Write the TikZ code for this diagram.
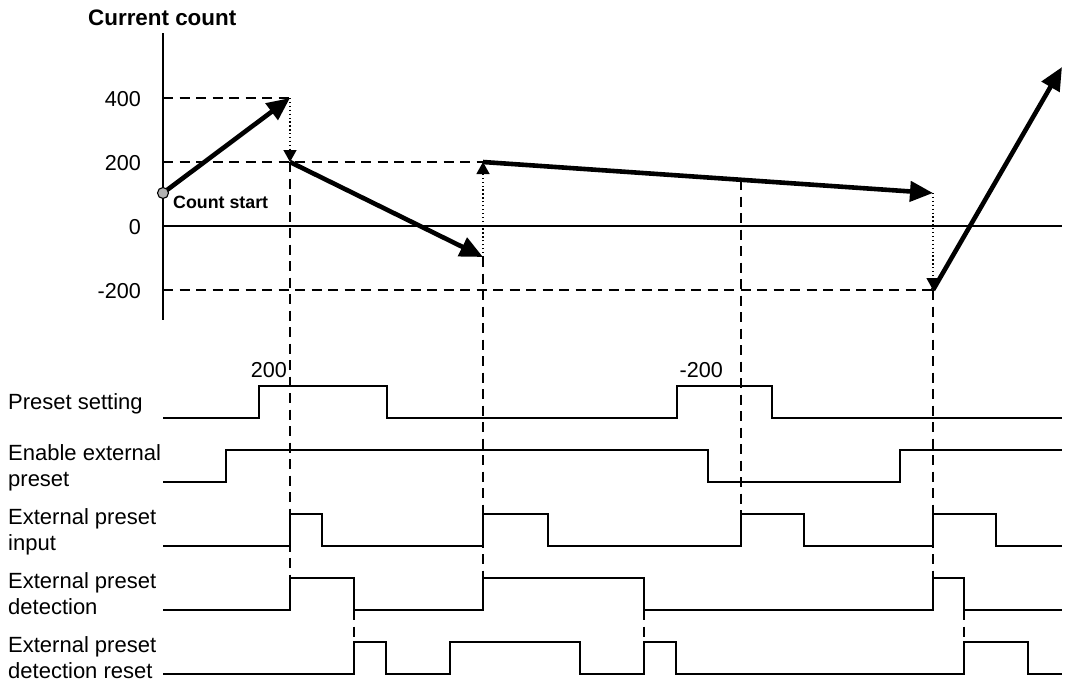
\documentclass[tikz,border=0pt]{standalone}
\usepackage{fontspec}
\setmainfont{Liberation Sans}
\usetikzlibrary{arrows.meta}
\begin{document}
\begin{tikzpicture}[x=1pt,y=-1pt,
  lbl/.style={inner sep=0pt,anchor=base west,font=\fontsize{22}{26}\selectfont},
  tick/.style={inner sep=0pt,anchor=base east,font=\fontsize{21.6}{26}\selectfont},
  axisline/.style={line width=1.4pt},
  sig/.style={line width=1.4pt,line join=miter},
  guide/.style={line width=1.3pt,dash pattern=on 10pt off 6.5pt},
  bigarrow/.style={line width=4.6pt,-{Triangle[length=23pt,width=20pt]}},
  dotarrow/.style={line width=1.3pt,dash pattern=on 1.3pt off 2.6pt,-{Triangle[length=12pt,width=13pt]}}]
\useasboundingbox (0,0) rectangle (1066,681);

% axis and titles
\node[inner sep=0pt,anchor=base west,font=\fontsize{22.4}{26}\selectfont\bfseries] (title) at (88,25) {Current count};
\draw[axisline] (163,33) -- (163,320);
\draw[axisline] (163,226) -- (1062,226);
\node[tick] (t400) at (141,106) {400};
\node[tick] (t200) at (141,170) {200};
\node[tick] (t0) at (141,234) {0};
\node[tick] (tm200) at (141,298) {-200};

% horizontal guides
\draw[guide] (163,98) -- (290,98);
\draw[guide] (163,162) -- (483,162);
\draw[guide] (163,290) -- (933,290);

% vertical guides
\draw[guide] (290,162) -- (290,578);
\draw[guide] (483,257) -- (483,578);
\draw[guide] (741,180) -- (741,514);
\draw[guide] (933,290) -- (933,578);
\draw[guide] (354,610) -- (354,642);
\draw[guide] (644,610) -- (644,642);
\draw[guide] (964,610) -- (964,642);

% count trajectory
\coordinate (s0) at (163,193);
\coordinate (p1) at (290,98);
\coordinate (p2) at (290,162);
\coordinate (p3) at (483,257);
\coordinate (p4) at (483,162);
\coordinate (p5) at (933,193);
\coordinate (p6) at (933,290);
\coordinate (p7) at (1062,67);
\draw[bigarrow] (s0) -- (p1);
\draw[dotarrow] (p1) -- (p2);
\draw[bigarrow] (p2) -- (p3);
\draw[dotarrow] (p3) -- (p4);
\draw[bigarrow] (p4) -- (p5);
\draw[dotarrow] (p5) -- (p6);
\draw[bigarrow] (p6) -- (p7);
\filldraw[fill=black!30,draw=black,line width=1.1pt] (s0) circle (5.5pt);
\node[inner sep=0pt,anchor=base west,font=\fontsize{17.8}{21}\selectfont\bfseries] (cstart) at (173,208) {Count start};

% timing labels
\node[lbl] (l1) at (8,409) {Preset setting};
\node[lbl] (l2a) at (8,460) {Enable external};
\node[lbl] (l2b) at (8,486) {preset};
\node[lbl] (l3a) at (8,524) {External preset};
\node[lbl] (l3b) at (8,550) {input};
\node[lbl] (l4a) at (8,588) {External preset};
\node[lbl] (l4b) at (8,614) {detection};
\node[lbl] (l5a) at (8,652) {External preset};
\node[lbl] (l5b) at (8,678) {detection reset};
\node[tick] (v200) at (287,377) {200};
\node[tick] (vm200) at (723,377) {-200};

% signals
\draw[sig] (163,418) -- (259,418) -- (259,386) -- (387,386) -- (387,418) -- (677,418) -- (677,386) -- (772,386) -- (772,418) -- (1062,418);
\draw[sig] (163,482) -- (226,482) -- (226,450) -- (708,450) -- (708,482) -- (900,482) -- (900,450) -- (1062,450);
\draw[sig] (163,546) -- (290,546) -- (290,514) -- (322,514) -- (322,546) -- (483,546) -- (483,514) -- (548,514) -- (548,546) -- (741,546) -- (741,514) -- (804,514) -- (804,546) -- (933,546) -- (933,514) -- (996,514) -- (996,546) -- (1062,546);
\draw[sig] (163,610) -- (290,610) -- (290,578) -- (354,578) -- (354,610) -- (483,610) -- (483,578) -- (644,578) -- (644,610) -- (933,610) -- (933,578) -- (964,578) -- (964,610) -- (1062,610);
\draw[sig] (163,674) -- (354,674) -- (354,642) -- (386,642) -- (386,674) -- (450,674) -- (450,642) -- (580,642) -- (580,674) -- (644,674) -- (644,642) -- (676,642) -- (676,674) -- (964,674) -- (964,642) -- (1028,642) -- (1028,674) -- (1062,674);
\end{tikzpicture}
\end{document}
